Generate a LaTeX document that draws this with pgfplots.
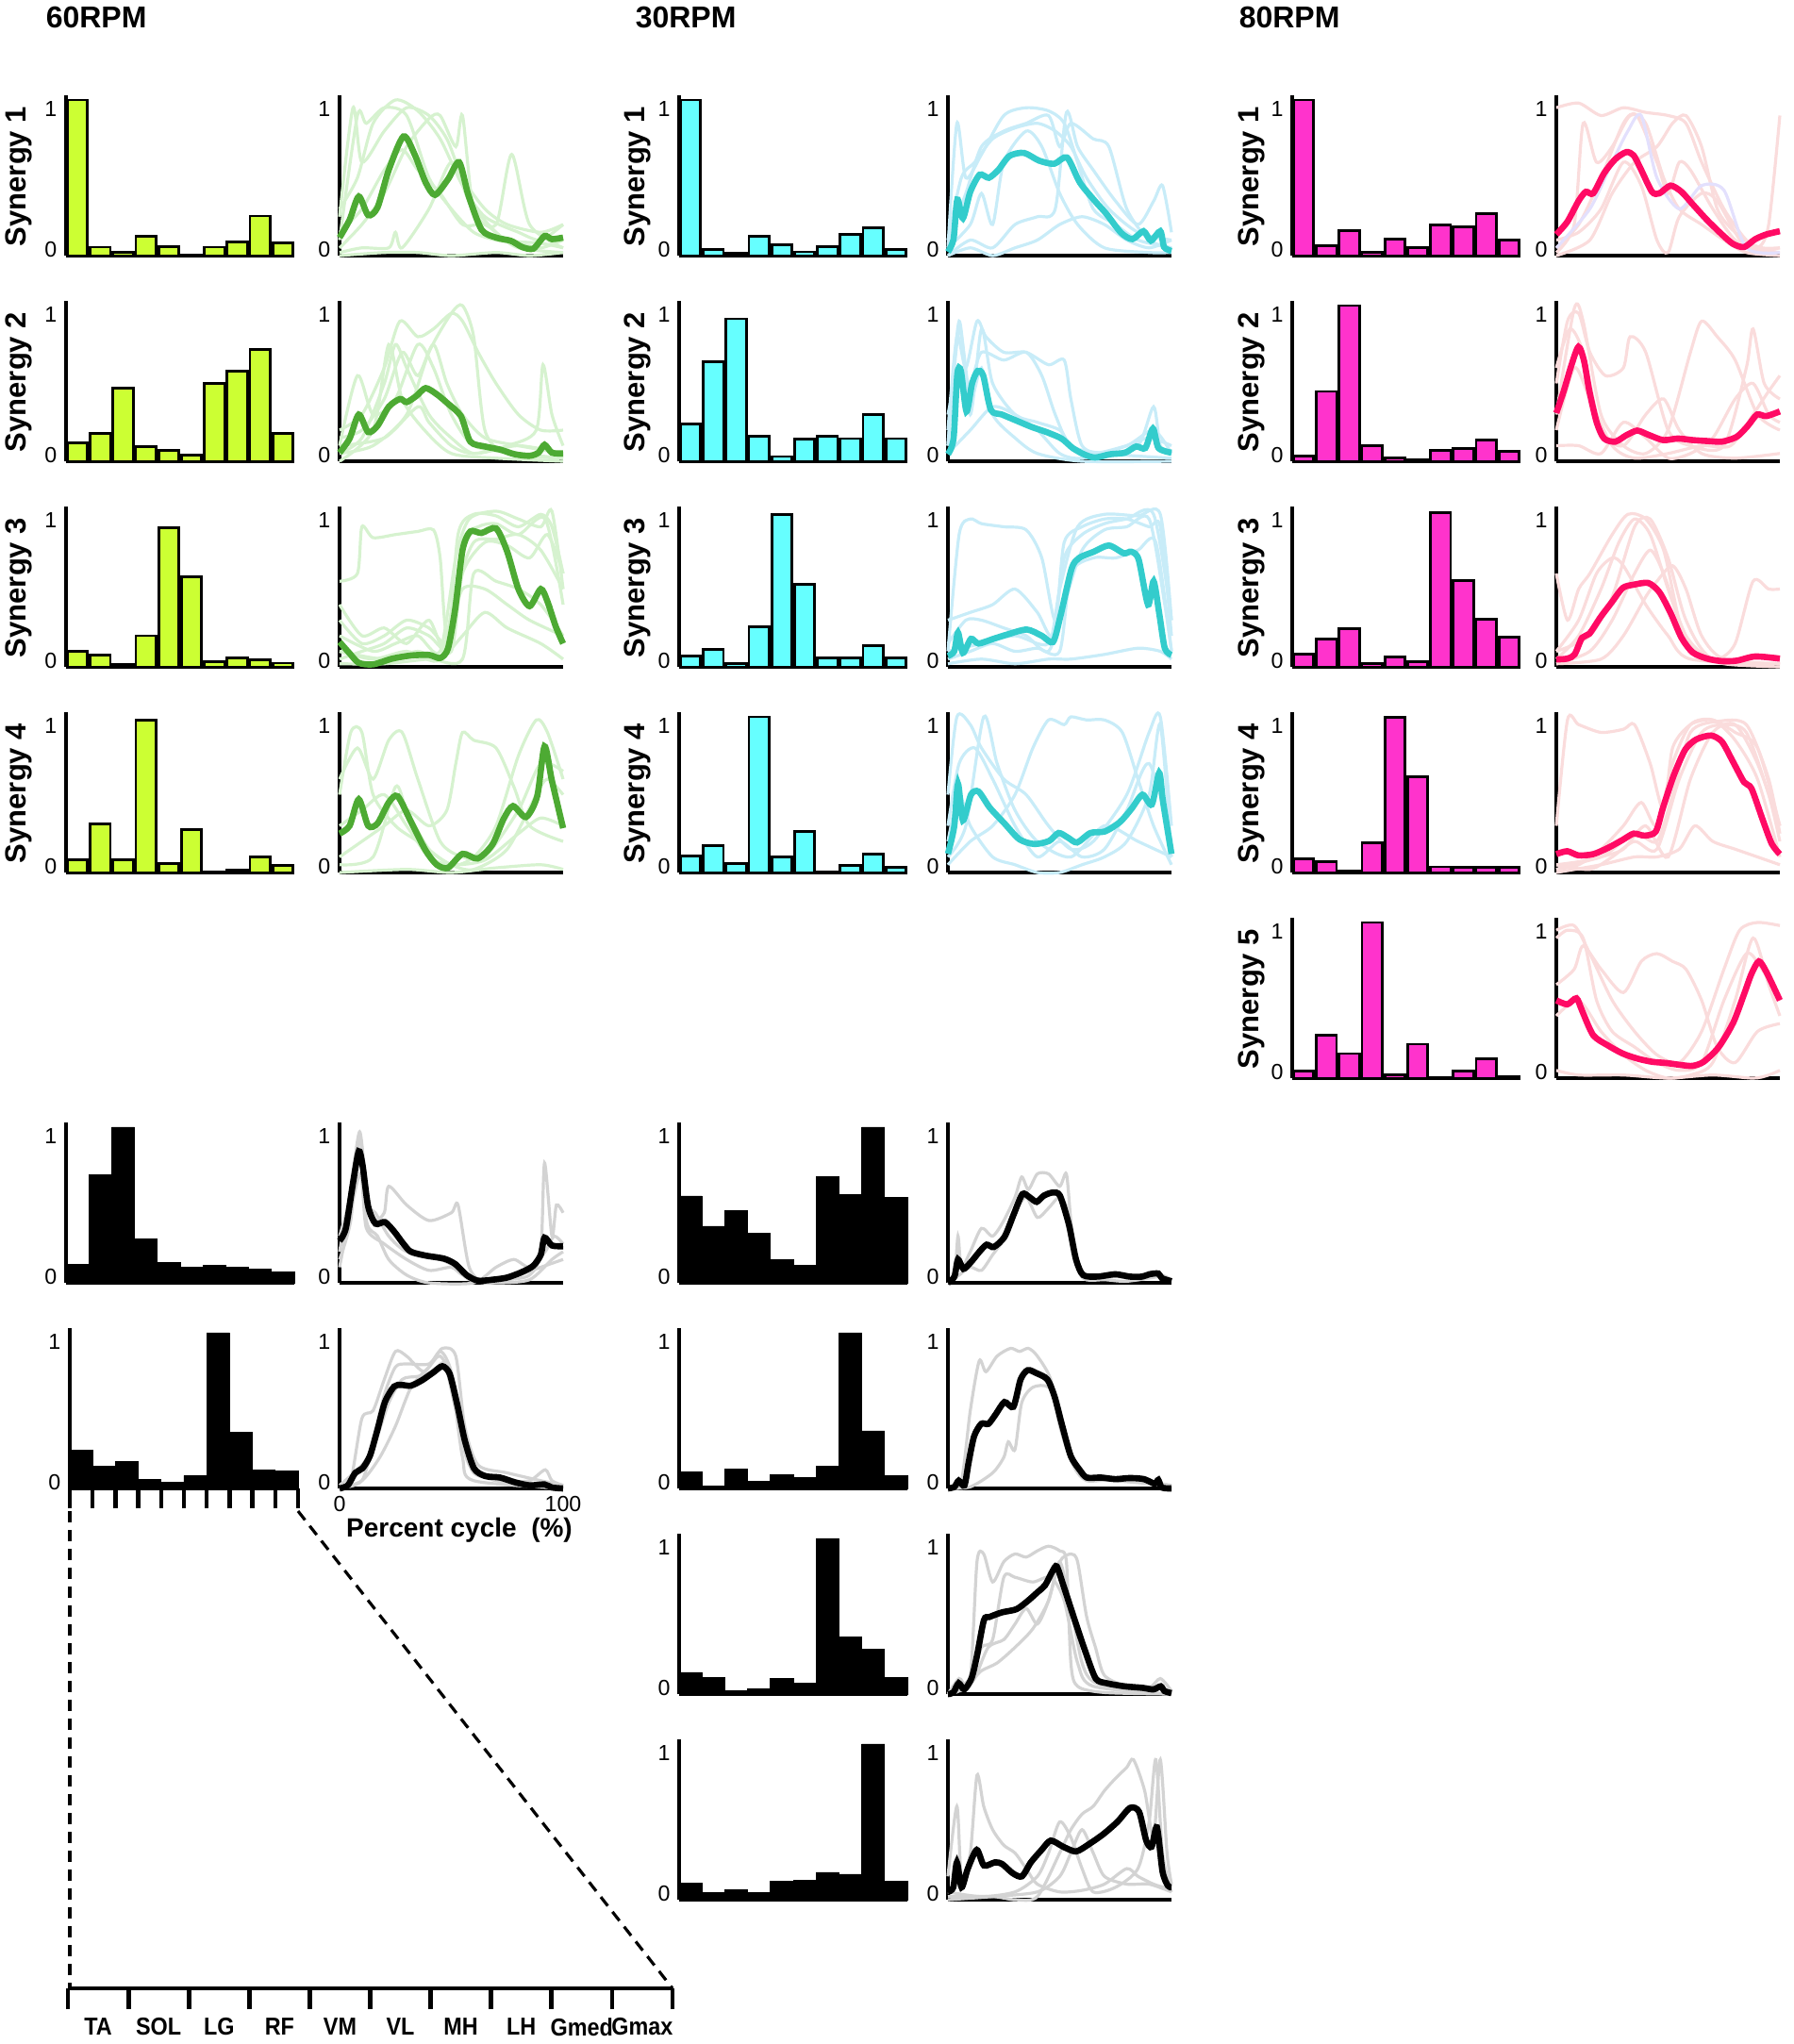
\documentclass[border=0pt]{standalone}
\usepackage{fontspec}
\setmainfont{Liberation Sans}
\newfontfamily\condfont[FakeStretch=0.9]{Liberation Sans}
\usepackage{pgfplots}
\pgfplotsset{compat=1.18}

\definecolor{bar60}{HTML}{CCFF33}
\definecolor{mean60}{HTML}{4DAA33}
\definecolor{faint60}{HTML}{D6F2CF}
\definecolor{bar30}{HTML}{66FFFF}
\definecolor{mean30}{HTML}{33CCCC}
\definecolor{faint30}{HTML}{C8ECF8}
\definecolor{bar80}{HTML}{FF33CC}
\definecolor{mean80}{HTML}{FF0A64}
\definecolor{faint80}{HTML}{FADCDC}
\definecolor{faintk}{HTML}{D3D3D3}

\pgfplotsset{
  base/.style={scale only axis, anchor=south west, height=42.5pt,
    axis x line=bottom, axis y line=left,
    axis line style={line width=1.1pt,-},
    ymin=0, ymax=1.03, enlargelimits=false,
    ytick={0.04,0.94}, yticklabels={0,1},
    xtick=\empty, major tick length=0pt,
    ytick style={draw=none},
    tick label style={font=\fontsize{5.8}{6}\selectfont},
    yticklabel style={anchor=east, inner sep=0pt, xshift=-2.2pt},
    /pgf/number format/assume math mode=true,
    clip=false},
  barax/.style={base, ybar, width=60.5pt, xmin=0.5, xmax=10.5},
  lineax/.style={base, width=59.25pt, xmin=0, xmax=100},
  cbar/.style={fill=#1, draw=black, line width=0.7pt, bar width=0.88},
  kbar/.style={fill=black, draw=black, line width=0.2pt, bar width=1},
  fl/.style={smooth, tension=0.45, no marks, color=#1, line width=0.8pt},
  ml/.style={smooth, tension=0.45, no marks, color=#1, line width=1.65pt},
}
\tikzset{
  syn/.style={rotate=90, inner sep=0pt, font=\bfseries\fontsize{7.75}{9}\selectfont},
  ttl/.style={anchor=west, inner sep=0pt, font=\bfseries\fontsize{8}{9}\selectfont},
  mus/.style={inner sep=0pt, yshift=-10.25pt, font=\condfont\bfseries\fontsize{6.5}{7}\selectfont},
}

\begin{document}
\begin{tikzpicture}
\useasboundingbox (0pt,0pt) rectangle (475.5pt,-541.75pt);

% ---------------- titles and labels ----------------
\node[ttl] at (12pt,-4.625pt) {60RPM};
\node[ttl] at (168.25pt,-4.625pt) {30RPM};
\node[ttl] at (328.25pt,-4.625pt) {80RPM};
\foreach \xx in {5pt,169pt,331.75pt}{
  \node[syn] at (\xx,-46.75pt) {Synergy 1};
  \node[syn] at (\xx,-101.25pt) {Synergy 2};
  \node[syn] at (\xx,-155.75pt) {Synergy 3};
  \node[syn] at (\xx,-210.25pt) {Synergy 4};
}
\node[syn] at (331.75pt,-264.75pt) {Synergy 5};

% ================= 60 RPM =================
\begin{axis}[barax, at={(17.5pt,-67.75pt)}]
\addplot[cbar=bar60] coordinates {(1,1.0)(2,0.055)(3,0.02)(4,0.126)(5,0.06)(6,0.0)(7,0.055)(8,0.09)(9,0.254)(10,0.08)};
\end{axis}
\begin{axis}[barax, at={(17.5pt,-122.25pt)}]
\addplot[cbar=bar60] coordinates {(1,0.12)(2,0.18)(3,0.47)(4,0.093)(5,0.07)(6,0.04)(7,0.50)(8,0.58)(9,0.72)(10,0.18)};
\end{axis}
\begin{axis}[barax, at={(17.5pt,-176.75pt)}]
\addplot[cbar=bar60] coordinates {(1,0.10)(2,0.077)(3,0.016)(4,0.20)(5,0.894)(6,0.58)(7,0.033)(8,0.057)(9,0.047)(10,0.024)};
\end{axis}
\begin{axis}[barax, at={(17.5pt,-231.25pt)}]
\addplot[cbar=bar60] coordinates {(1,0.08)(2,0.31)(3,0.08)(4,0.98)(5,0.057)(6,0.275)(7,0.004)(8,0.016)(9,0.10)(10,0.045)};
\end{axis}

\begin{axis}[lineax, at={(90pt,-67.75pt)}]
\addplot[fl=faint60] coordinates {(0,0.3)(8,0.5)(15,0.85)(25,1.0)(35,0.93)(45,0.75)(55,0.45)(65,0.25)(80,0.15)(90,0.1)(100,0.2)};
\addplot[fl=faint60] coordinates {(0,0.1)(8,0.9)(12,0.85)(20,0.95)(30,0.9)(40,0.5)(50,0.3)(60,0.15)(70,0.1)(80,0.08)(90,0.05)(100,0.1)};
\addplot[fl=faint60] coordinates {(0,0.05)(10,0.2)(20,0.4)(30,0.7)(40,0.88)(45,0.9)(52,0.7)(55,0.9)(60,0.3)(70,0.2)(77,0.65)(85,0.2)(100,0.05)};
\addplot[fl=faint60] coordinates {(0,0.02)(10,0.05)(22,0.05)(25,0.15)(28,0.05)(40,0.3)(50,0.6)(58,0.35)(70,0.15)(80,0.05)(100,0.02)};
\addplot[fl=faint60] coordinates {(0,0.15)(10,0.3)(20,0.55)(28,0.68)(35,0.55)(45,0.4)(55,0.2)(65,0.2)(75,0.1)(90,0.08)(100,0.05)};
\addplot[fl=faint60] coordinates {(0,0.25)(6,0.95)(10,0.6)(20,0.8)(30,0.95)(40,0.9)(48,0.75)(55,0.5)(65,0.3)(75,0.2)(90,0.15)(100,0.2)};
\addplot[fl=faint60] coordinates {(0,0)(20,0.02)(35,0.02)(50,0.0)(70,0.02)(85,0)(100,0.02)};
\addplot[ml=mean60] coordinates {(0,0.116)(4.5,0.23)(8.6,0.38)(12.8,0.26)(17,0.31)(22,0.55)(28.6,0.766)(33.6,0.65)(38.5,0.47)(42.7,0.39)(48.5,0.49)(53.5,0.60)(57.6,0.39)(63.5,0.167)(70,0.116)(76.7,0.095)(81.7,0.055)(86.7,0.045)(91.7,0.126)(95,0.106)(100,0.116)};
\end{axis}
\begin{axis}[lineax, at={(90pt,-122.25pt)}]
\addplot[fl=faint60] coordinates {(0,0.2)(10,0.3)(20,0.6)(27,0.9)(35,0.8)(42,0.85)(50,0.95)(55,0.9)(62,0.7)(70,0.5)(80,0.3)(90,0.2)(100,0.2)};
\addplot[fl=faint60] coordinates {(0,0.05)(10,0.15)(20,0.5)(25,0.75)(30,0.6)(40,0.3)(50,0.15)(60,0.05)(75,0.1)(88,0.2)(91,0.62)(95,0.3)(100,0.1)};
\addplot[fl=faint60] coordinates {(0,0.1)(8,0.55)(15,0.3)(25,0.4)(35,0.75)(42,0.6)(50,0.3)(60,0.1)(80,0.05)(100,0.02)};
\addplot[fl=faint60] coordinates {(0,0.05)(15,0.1)(30,0.3)(40,0.7)(50,0.95)(55,1.0)(60,0.8)(65,0.2)(75,0.05)(100,0.02)};
\addplot[fl=faint60] coordinates {(0,0.0)(15,0.2)(22,0.75)(28,0.4)(38,0.2)(50,0.05)(70,0.02)(100,0)};
\addplot[fl=faint60] coordinates {(0,0.1)(20,0.15)(35,0.35)(40,0.25)(50,0.1)(60,0.05)(80,0.1)(100,0.05)};
\addplot[fl=faint60] coordinates {(0,0.15)(10,0.2)(20,0.4)(28,0.7)(35,0.55)(42,0.75)(48,0.5)(55,0.3)(65,0.15)(80,0.1)(100,0.05)};
\addplot[ml=mean60] coordinates {(0,0.055)(4.5,0.146)(8.6,0.30)(12.8,0.187)(17,0.228)(22,0.35)(27,0.40)(30,0.38)(34.4,0.42)(38.5,0.47)(43.5,0.43)(48.5,0.37)(54.3,0.29)(58.5,0.126)(65,0.095)(71.8,0.075)(78.4,0.045)(85,0.035)(89,0.055)(91.7,0.106)(95,0.055)(100,0.05)};
\end{axis}
\begin{axis}[lineax, at={(90pt,-176.75pt)}]
\addplot[fl=faint60] coordinates {(0,0.55)(8,0.6)(10,0.9)(15,0.83)(25,0.85)(35,0.87)(42,0.88)(45,0.7)(48,0.2)(55,0.5)(65,0.5)(75,0.4)(85,0.3)(100,0.2)};
\addplot[fl=faint60] coordinates {(0,0.2)(15,0.1)(25,0.15)(35,0.2)(45,0.1)(52,0.7)(58,0.95)(70,1.0)(80,0.95)(90,0.9)(95,1.0)(100,0.5)};
\addplot[fl=faint60] coordinates {(0,0.05)(10,0.1)(20,0.15)(30,0.25)(40,0.2)(50,0.1)(55,0.6)(65,0.8)(75,0.78)(85,0.7)(93,0.85)(100,0.6)};
\addplot[fl=faint60] coordinates {(0,0.1)(20,0.05)(35,0.1)(45,0.05)(55,0.2)(65,0.35)(75,0.25)(90,0.15)(100,0.05)};
\addplot[fl=faint60] coordinates {(0,0.3)(10,0.15)(20,0.2)(30,0.3)(40,0.25)(50,0.15)(55,0.8)(62,0.9)(70,0.92)(80,0.85)(92,0.95)(100,0.4)};
\addplot[fl=faint60] coordinates {(0,0.02)(20,0.02)(40,0.05)(55,0.05)(60,0.6)(70,0.55)(80,0.5)(90,0.4)(100,0.2)};
\addplot[fl=faint60] coordinates {(0,0.4)(10,0.2)(20,0.25)(30,0.15)(40,0.3)(48,0.1)(53,0.85)(60,0.98)(70,0.97)(80,0.9)(90,0.98)(95,0.9)(100,0.6)};
\addplot[fl=faint60] coordinates {(0,0.1)(15,0.05)(30,0.1)(45,0.05)(52,0.5)(60,0.8)(70,0.82)(80,0.85)(90,0.75)(100,0.5)};
\addplot[ml=mean60] coordinates {(0,0.16)(4.5,0.087)(8.6,0.026)(15,0.016)(23.6,0.053)(32,0.073)(40,0.077)(45,0.057)(48.5,0.118)(51.8,0.38)(55,0.75)(58.5,0.87)(63.5,0.86)(70,0.89)(75,0.74)(80,0.50)(85,0.39)(90,0.50)(93,0.42)(96.7,0.26)(100,0.15)};
\end{axis}
\begin{axis}[lineax, at={(90pt,-231.25pt)}]
\addplot[fl=faint60] coordinates {(0,0.5)(5,0.9)(10,0.9)(15,0.5)(25,0.3)(35,0.2)(50,0.05)(60,0.1)(70,0.3)(80,0.75)(88,0.98)(93,0.9)(100,0.6)};
\addplot[fl=faint60] coordinates {(0,0.6)(8,0.8)(15,0.6)(22,0.85)(28,0.9)(35,0.6)(45,0.2)(55,0.1)(65,0.1)(80,0.4)(90,0.7)(100,0.65)};
\addplot[fl=faint60] coordinates {(0,0.1)(10,0.2)(20,0.3)(30,0.4)(40,0.3)(48,0.4)(52,0.7)(55,0.9)(60,0.85)(70,0.8)(78,0.55)(85,0.3)(100,0.2)};
\addplot[fl=faint60] coordinates {(0,0.05)(15,0.1)(25,0.55)(30,0.4)(40,0.15)(50,0.05)(60,0.02)(75,0.15)(88,0.5)(93,0.6)(100,0.5)};
\addplot[fl=faint60] coordinates {(0,0.3)(10,0.4)(20,0.5)(30,0.3)(40,0.1)(50,0.05)(65,0.08)(80,0.25)(90,0.35)(100,0.3)};
\addplot[fl=faint60] coordinates {(0,0.0)(30,0.02)(50,0.0)(70,0.03)(90,0.05)(100,0.02)};
\addplot[ml=mean60] coordinates {(0,0.25)(4.5,0.30)(8.6,0.47)(12.8,0.30)(17,0.315)(22,0.45)(26,0.49)(32,0.325)(38.5,0.142)(43.5,0.05)(48.5,0.03)(55,0.12)(61.8,0.09)(68.4,0.18)(73.4,0.345)(77.6,0.427)(83.4,0.356)(88.4,0.49)(91.7,0.81)(95,0.59)(100,0.285)};
\end{axis}

% ================= 30 RPM =================
\begin{axis}[barax, at={(180pt,-67.75pt)}]
\addplot[cbar=bar30] coordinates {(1,1.0)(2,0.04)(3,0.014)(4,0.126)(5,0.07)(6,0.024)(7,0.06)(8,0.136)(9,0.177)(10,0.04)};
\end{axis}
\begin{axis}[barax, at={(180pt,-122.25pt)}]
\addplot[cbar=bar30] coordinates {(1,0.24)(2,0.64)(3,0.915)(4,0.16)(5,0.03)(6,0.142)(7,0.16)(8,0.146)(9,0.30)(10,0.146)};
\end{axis}
\begin{axis}[barax, at={(180pt,-176.75pt)}]
\addplot[cbar=bar30] coordinates {(1,0.07)(2,0.114)(3,0.02)(4,0.256)(5,0.98)(6,0.53)(7,0.057)(8,0.06)(9,0.138)(10,0.06)};
\end{axis}
\begin{axis}[barax, at={(180pt,-231.25pt)}]
\addplot[cbar=bar30] coordinates {(1,0.108)(2,0.173)(3,0.06)(4,1.0)(5,0.098)(6,0.264)(7,0)(8,0.047)(9,0.116)(10,0.035)};
\end{axis}

\begin{axis}[lineax, at={(251.25pt,-67.75pt)}]
\addplot[fl=faint30] coordinates {(0,0.05)(4,0.85)(8,0.5)(15,0.65)(25,0.9)(35,0.95)(45,0.93)(52,0.85)(58,0.6)(65,0.3)(75,0.2)(85,0.1)(100,0.05)};
\addplot[fl=faint30] coordinates {(0,0.1)(8,0.4)(15,0.7)(25,0.8)(35,0.85)(45,0.9)(50,0.7)(55,0.85)(65,0.75)(72,0.7)(80,0.3)(90,0.1)(100,0.05)};
\addplot[fl=faint30] coordinates {(0,0.0)(10,0.1)(20,0.05)(30,0.2)(40,0.25)(48,0.3)(53,0.92)(58,0.7)(65,0.55)(75,0.35)(85,0.2)(92,0.35)(96,0.45)(100,0.15)};
\addplot[fl=faint30] coordinates {(0,0.05)(10,0.2)(15,0.4)(20,0.2)(25,0.6)(35,0.8)(42,0.7)(50,0.4)(58,0.2)(70,0.05)(90,0.02)(100,0.02)};
\addplot[fl=faint30] coordinates {(0,0.0)(10,0.05)(20,0.0)(30,0.05)(40,0.1)(50,0.2)(60,0.25)(70,0.2)(80,0.1)(90,0.05)(100,0.1)};
\addplot[fl=faint30] coordinates {(0,0.1)(6,0.5)(12,0.6)(20,0.75)(30,0.82)(40,0.85)(48,0.8)(55,0.7)(62,0.5)(72,0.3)(85,0.15)(100,0.1)};
\addplot[ml=mean30] coordinates {(0,0.024)(2.5,0.106)(4.2,0.36)(6.7,0.24)(10,0.41)(14.2,0.52)(18.3,0.50)(22.5,0.55)(27.5,0.64)(34,0.66)(40.8,0.61)(47.5,0.59)(53.3,0.63)(59,0.47)(65.8,0.35)(70.8,0.27)(77.5,0.146)(82.5,0.106)(87.5,0.157)(90.8,0.096)(95,0.157)(96.7,0.055)(100,0.03)};
\end{axis}
\begin{axis}[lineax, at={(251.25pt,-122.25pt)}]
\addplot[fl=faint30] coordinates {(0,0.2)(4,0.8)(8,0.6)(13,0.9)(17,0.8)(25,0.7)(35,0.7)(45,0.62)(52,0.65)(55,0.4)(60,0.1)(70,0.05)(85,0.1)(92,0.35)(95,0.1)(100,0.05)};
\addplot[fl=faint30] coordinates {(0,0.1)(5,0.9)(10,0.3)(15,0.85)(20,0.5)(30,0.3)(40,0.25)(50,0.2)(55,0.1)(65,0.05)(80,0.1)(90,0.15)(100,0.1)};
\addplot[fl=faint30] coordinates {(0,0.3)(5,0.6)(10,0.5)(15,0.7)(25,0.65)(35,0.7)(42,0.55)(48,0.3)(55,0.1)(70,0.05)(100,0.02)};
\addplot[fl=faint30] coordinates {(0,0.05)(10,0.2)(20,0.35)(30,0.3)(40,0.2)(50,0.05)(60,0.02)(80,0.1)(92,0.2)(100,0.05)};
\addplot[fl=faint30] coordinates {(0,0.1)(5,0.85)(10,0.4)(15,0.6)(20,0.3)(30,0.15)(40,0.05)(60,0.0)(100,0.0)};
\addplot[ml=mean30] coordinates {(0,0.045)(2.5,0.146)(4.2,0.56)(5.8,0.58)(8.3,0.32)(10.8,0.50)(13.3,0.58)(15.8,0.55)(19.2,0.33)(24.2,0.30)(30.8,0.26)(37.5,0.22)(44.2,0.187)(50.8,0.146)(55.8,0.085)(60.8,0.045)(65.8,0.024)(72.5,0.045)(79.2,0.055)(84.2,0.095)(88.3,0.085)(91.7,0.21)(94.2,0.085)(100,0.055)};
\end{axis}
\begin{axis}[lineax, at={(251.25pt,-176.75pt)}]
\addplot[fl=faint30] coordinates {(0,0.1)(5,0.85)(10,0.95)(15,0.92)(25,0.9)(35,0.88)(42,0.7)(48,0.3)(52,0.8)(60,0.9)(70,0.95)(80,0.95)(90,0.9)(95,0.9)(100,0.2)};
\addplot[fl=faint30] coordinates {(0,0.3)(10,0.35)(20,0.4)(30,0.5)(40,0.35)(47,0.2)(52,0.7)(60,0.85)(70,0.92)(80,0.95)(92,0.98)(100,0.3)};
\addplot[fl=faint30] coordinates {(0,0.05)(10,0.1)(20,0.15)(30,0.1)(40,0.12)(50,0.1)(55,0.6)(65,0.7)(75,0.7)(85,0.75)(93,0.8)(100,0.1)};
\addplot[fl=faint30] coordinates {(0,0.02)(15,0.05)(30,0.02)(45,0.05)(55,0.05)(70,0.08)(85,0.12)(95,0.1)(100,0.05)};
\addplot[fl=faint30] coordinates {(0,0.15)(8,0.3)(15,0.3)(25,0.25)(35,0.2)(45,0.1)(52,0.4)(60,0.75)(70,0.88)(80,0.9)(90,0.95)(97,0.4)(100,0.1)};
\addplot[fl=faint30] coordinates {(0,0.1)(15,0.15)(30,0.2)(45,0.15)(50,0.5)(58,0.9)(70,0.98)(85,0.97)(95,0.98)(100,0.3)};
\addplot[ml=mean30] coordinates {(0,0.07)(2.8,0.10)(4.5,0.22)(6.7,0.09)(10.3,0.18)(13.7,0.15)(20.3,0.18)(27,0.21)(35.3,0.24)(42,0.20)(47,0.16)(50.3,0.325)(55.3,0.63)(58.7,0.70)(65.3,0.74)(72,0.78)(78.7,0.73)(82,0.74)(85.3,0.69)(89.5,0.40)(92,0.55)(94.5,0.345)(97,0.12)(100,0.077)};
\end{axis}
\begin{axis}[lineax, at={(251.25pt,-231.25pt)}]
\addplot[fl=faint30] coordinates {(0,0.5)(4,1.0)(10,0.95)(15,0.8)(25,0.6)(35,0.5)(45,0.3)(55,0.15)(65,0.2)(80,0.5)(90,0.9)(95,1.0)(100,0.3)};
\addplot[fl=faint30] coordinates {(0,0.2)(5,0.5)(10,0.3)(20,0.1)(30,0.05)(40,0.0)(50,0.0)(60,0.05)(70,0.1)(80,0.2)(90,0.5)(95,0.95)(100,0.1)};
\addplot[fl=faint30] coordinates {(0,0.05)(10,0.2)(20,0.3)(30,0.5)(38,0.8)(45,0.98)(52,0.95)(55,1.0)(62,0.98)(70,0.98)(78,0.9)(85,0.6)(92,0.3)(100,0.05)};
\addplot[fl=faint30] coordinates {(0,0.3)(5,0.7)(12,0.8)(20,0.6)(30,0.3)(40,0.1)(50,0.2)(60,0.1)(70,0.15)(80,0.4)(90,0.7)(100,0.2)};
\addplot[fl=faint30] coordinates {(0,0.1)(8,0.3)(16,1.0)(22,0.7)(30,0.4)(40,0.2)(55,0.1)(70,0.3)(85,0.2)(100,0.1)};
\addplot[ml=mean30] coordinates {(0,0.12)(2.8,0.295)(4.5,0.57)(6.7,0.335)(10.3,0.50)(13.7,0.52)(18.7,0.417)(25.3,0.315)(32,0.213)(38.7,0.183)(45.3,0.203)(49.5,0.254)(53.7,0.224)(57.8,0.193)(63.7,0.254)(70.3,0.264)(77,0.325)(82,0.407)(87,0.50)(91.2,0.437)(94.5,0.64)(96.2,0.457)(100,0.12)};
\end{axis}

% ================= 80 RPM =================
\begin{axis}[barax, at={(342.5pt,-67.75pt)}]
\addplot[cbar=bar80] coordinates {(1,1.0)(2,0.065)(3,0.162)(4,0.02)(5,0.105)(6,0.053)(7,0.195)(8,0.187)(9,0.27)(10,0.10)};
\end{axis}
\begin{axis}[barax, at={(342.5pt,-122.25pt)}]
\addplot[cbar=bar80] coordinates {(1,0.035)(2,0.448)(3,1.0)(4,0.10)(5,0.02)(6,0.008)(7,0.07)(8,0.08)(9,0.138)(10,0.062)};
\end{axis}
\begin{axis}[barax, at={(342.5pt,-176.75pt)}]
\addplot[cbar=bar80] coordinates {(1,0.08)(2,0.178)(3,0.244)(4,0.02)(5,0.066)(6,0.032)(7,0.99)(8,0.554)(9,0.305)(10,0.19)};
\end{axis}
\begin{axis}[barax, at={(342.5pt,-231.25pt)}]
\addplot[cbar=bar80] coordinates {(1,0.087)(2,0.071)(3,0.01)(4,0.19)(5,0.995)(6,0.616)(7,0.037)(8,0.032)(9,0.034)(10,0.034)};
\end{axis}
\begin{axis}[barax, at={(342.5pt,-285.75pt)}]
\addplot[cbar=bar80] coordinates {(1,0.047)(2,0.276)(3,0.158)(4,1.0)(5,0.02)(6,0.218)(7,0.003)(8,0.045)(9,0.126)(10,0.008)};
\end{axis}

\begin{axis}[lineax, at={(412.5pt,-67.75pt)}]
\addplot[fl=faint80] coordinates {(0,0.95)(10,0.98)(20,0.9)(30,0.95)(40,0.92)(50,0.9)(58,0.85)(65,0.6)(75,0.3)(85,0.1)(92,0.05)(100,0.05)};
\addplot[fl=faint80] coordinates {(0,0.02)(8,0.2)(12,0.85)(18,0.6)(25,0.7)(33,0.9)(40,0.85)(48,0.5)(55,0.3)(65,0.2)(75,0.1)(85,0.02)(100,0.0)};
\addplot[fl=faint80] coordinates {(0,0.05)(10,0.2)(20,0.5)(30,0.85)(36,0.9)(45,0.6)(50,0.4)(55,0.6)(60,0.55)(70,0.3)(80,0.1)(90,0.05)(95,0.2)(100,0.9)};
\addplot[fl=faint80] coordinates {(0,0.1)(10,0.15)(20,0.3)(30,0.6)(38,0.45)(45,0.1)(50,0.02)(55,0.25)(65,0.4)(72,0.35)(85,0.05)(100,0.05)};
\addplot[fl=faint80] coordinates {(0,0.0)(15,0.1)(25,0.4)(35,0.6)(45,0.7)(52,0.85)(58,0.9)(65,0.7)(72,0.3)(80,0.15)(90,0.05)(100,0.02)};
\addplot[fl={red!8!blue!12!white}] coordinates {(0,0.05)(15,0.3)(25,0.6)(32,0.8)(38,0.9)(45,0.5)(55,0.3)(65,0.45)(75,0.42)(85,0.05)(100,0.02)};
\addplot[ml=mean80] coordinates {(0,0.136)(4.9,0.217)(9.9,0.35)(13.2,0.41)(16.5,0.40)(21.4,0.53)(26.4,0.62)(31.3,0.665)(34.6,0.644)(37.9,0.553)(42.8,0.41)(46.1,0.40)(51.1,0.45)(56,0.41)(61,0.33)(67.5,0.228)(74.1,0.136)(79.1,0.075)(84,0.055)(89,0.106)(93.9,0.136)(100,0.157)};
\end{axis}
\begin{axis}[lineax, at={(412.5pt,-122.25pt)}]
\addplot[fl=faint80] coordinates {(0,0.5)(5,0.9)(10,0.95)(15,0.7)(22,0.55)(30,0.6)(33,0.8)(40,0.7)(50,0.2)(60,0.1)(75,0.1)(85,0.6)(88,0.85)(93,0.5)(100,0.4)};
\addplot[fl=faint80] coordinates {(0,0.3)(8,0.98)(12,0.9)(20,0.3)(30,0.1)(40,0.05)(50,0.2)(60,0.7)(65,0.9)(72,0.8)(80,0.65)(90,0.3)(100,0.2)};
\addplot[fl=faint80] coordinates {(0,0.2)(8,0.6)(15,0.4)(25,0.1)(35,0.02)(50,0.05)(65,0.1)(78,0.1)(88,0.3)(95,0.45)(100,0.55)};
\addplot[fl=faint80] coordinates {(0,0.6)(6,0.85)(12,0.7)(20,0.2)(30,0.1)(40,0.3)(48,0.4)(55,0.2)(65,0.05)(80,0.02)(100,0.05)};
\addplot[fl=faint80] coordinates {(0,0.1)(10,0.1)(20,0.05)(30,0.25)(40,0.15)(50,0.02)(60,0.05)(70,0.15)(80,0.4)(88,0.5)(95,0.3)(100,0.25)};
\addplot[ml=mean80] coordinates {(0,0.31)(3.3,0.45)(6.6,0.61)(9.9,0.735)(12.4,0.645)(14.8,0.45)(18.1,0.248)(21.4,0.146)(26.4,0.126)(31.3,0.167)(36.2,0.197)(41.2,0.17)(47.8,0.136)(54.4,0.146)(61,0.136)(67.5,0.13)(74.1,0.126)(80.7,0.157)(85.7,0.228)(89.8,0.30)(93.9,0.29)(100,0.32)};
\end{axis}
\begin{axis}[lineax, at={(412.5pt,-176.75pt)}]
\addplot[fl=faint80] coordinates {(0,0.6)(5,0.3)(10,0.5)(15,0.6)(25,0.85)(32,0.98)(40,0.95)(48,0.75)(55,0.3)(62,0.1)(72,0.05)(80,0.15)(88,0.55)(95,0.5)(100,0.5)};
\addplot[fl=faint80] coordinates {(0,0.05)(10,0.2)(20,0.5)(28,0.8)(35,0.95)(42,0.85)(50,0.5)(58,0.2)(70,0.05)(100,0.02)};
\addplot[fl=faint80] coordinates {(0,0.02)(15,0.1)(25,0.3)(35,0.6)(42,0.75)(48,0.6)(55,0.3)(62,0.1)(75,0.02)(100,0.0)};
\addplot[fl=faint80] coordinates {(0,0.1)(10,0.3)(18,0.6)(25,0.7)(30,0.65)(40,0.4)(50,0.2)(60,0.05)(100,0.02)};
\addplot[fl=faint80] coordinates {(0,0.02)(20,0.05)(30,0.2)(40,0.45)(45,0.55)(52,0.65)(58,0.5)(65,0.2)(75,0.05)(100,0.02)};
\addplot[fl=faint80] coordinates {(0,0.1)(15,0.2)(25,0.45)(35,0.9)(42,0.95)(50,0.7)(58,0.3)(70,0.05)(100,0.02)};
\addplot[ml=mean80] coordinates {(0,0.048)(4.9,0.053)(8.2,0.08)(11.5,0.187)(14.8,0.213)(19.8,0.32)(24.7,0.413)(29.7,0.507)(34.6,0.528)(41.2,0.539)(46.1,0.48)(51.1,0.347)(56,0.187)(61,0.093)(67.5,0.053)(74.1,0.037)(80.7,0.04)(89,0.067)(100,0.053)};
\end{axis}
\begin{axis}[lineax, at={(412.5pt,-231.25pt)}]
\addplot[fl=faint80] coordinates {(0,0.3)(5,0.98)(10,0.95)(20,0.9)(30,0.92)(35,0.95)(42,0.7)(48,0.4)(52,0.8)(60,0.95)(70,0.98)(80,0.9)(90,0.8)(100,0.3)};
\addplot[fl=faint80] coordinates {(0,0.02)(10,0.05)(20,0.15)(30,0.3)(38,0.45)(45,0.3)(52,0.7)(60,0.95)(70,0.98)(80,0.85)(90,0.6)(100,0.1)};
\addplot[fl=faint80] coordinates {(0,0.05)(15,0.02)(25,0.1)(35,0.2)(45,0.15)(55,0.6)(65,0.9)(75,0.95)(85,0.9)(95,0.5)(100,0.2)};
\addplot[fl=faint80] coordinates {(0,0.0)(20,0.05)(35,0.1)(45,0.1)(55,0.15)(62,0.3)(70,0.2)(80,0.15)(90,0.1)(100,0.05)};
\addplot[fl=faint80] coordinates {(0,0.02)(20,0.1)(30,0.15)(40,0.3)(50,0.1)(60,0.6)(70,0.9)(80,0.95)(90,0.7)(100,0.3)};
\addplot[fl=faint80] coordinates {(0,0.05)(20,0.1)(35,0.25)(45,0.2)(52,0.5)(60,0.9)(72,0.97)(85,0.95)(95,0.6)(100,0.25)};
\addplot[ml=mean80] coordinates {(0,0.118)(4.9,0.137)(9.9,0.11)(16.5,0.118)(23.1,0.158)(29.7,0.21)(34.6,0.25)(39.5,0.237)(44.5,0.263)(47.8,0.42)(52.7,0.63)(57.7,0.79)(62.6,0.855)(69.2,0.88)(74.1,0.84)(79.1,0.71)(84,0.58)(87.3,0.54)(92.3,0.34)(96.4,0.184)(100,0.118)};
\end{axis}
\begin{axis}[lineax, at={(412.5pt,-285.75pt)}]
\addplot[fl=faint80] coordinates {(0,0.95)(8,0.98)(15,0.8)(25,0.5)(35,0.3)(45,0.15)(55,0.1)(65,0.3)(75,0.7)(82,0.95)(90,1.0)(100,0.98)};
\addplot[fl=faint80] coordinates {(0,0.9)(5,0.95)(12,0.9)(18,0.5)(25,0.3)(35,0.2)(45,0.1)(55,0.05)(65,0.1)(75,0.5)(85,0.8)(92,0.7)(100,0.5)};
\addplot[fl=faint80] coordinates {(0,0.6)(8,0.7)(12,0.85)(20,0.7)(30,0.55)(38,0.75)(45,0.8)(52,0.75)(58,0.7)(65,0.5)(72,0.2)(80,0.1)(90,0.3)(100,0.35)};
\addplot[fl=faint80] coordinates {(0,0.4)(10,0.5)(20,0.3)(30,0.15)(40,0.05)(50,0.0)(60,0.02)(70,0.1)(80,0.5)(88,0.9)(95,0.6)(100,0.4)};
\addplot[fl=faint80] coordinates {(0,0.05)(10,0.02)(30,0.02)(50,0.0)(70,0.02)(88,0.0)(95,0.02)(100,0.05)};
\addplot[ml=mean80] coordinates {(0,0.50)(4.9,0.474)(9,0.513)(11.5,0.434)(16.5,0.276)(23.1,0.21)(29.7,0.158)(36.2,0.126)(42.8,0.105)(49.4,0.097)(56,0.084)(61,0.079)(65.9,0.105)(72.5,0.197)(79.1,0.355)(84,0.54)(87.3,0.67)(90.6,0.75)(93.9,0.684)(100,0.50)};
\end{axis}

% ================= black, left column =================
\begin{axis}[barax, at={(17.5pt,-340pt)}]
\addplot[kbar] coordinates {(1,0.116)(2,0.696)(3,1.0)(4,0.282)(5,0.132)(6,0.102)(7,0.112)(8,0.1)(9,0.086)(10,0.07)};
\end{axis}
\begin{axis}[barax, at={(18.5pt,-394.5pt)}, xtick={0.5,1.5,...,10.5}, xticklabels={}, xtick align=outside, ytick align=inside, major tick length=5.25pt, xtick style={line width=1.1pt, black}]
\addplot[kbar] coordinates {(1,0.246)(2,0.142)(3,0.172)(4,0.056)(5,0.04)(6,0.082)(7,1.0)(8,0.36)(9,0.12)(10,0.112)};
\end{axis}
\begin{axis}[lineax, at={(90pt,-340pt)}]
\addplot[fl=faintk] coordinates {(0,0.2)(5,0.6)(9,0.97)(12,0.6)(15,0.4)(20,0.45)(22,0.62)(30,0.5)(40,0.4)(50,0.45)(53,0.5)(58,0.1)(65,0.0)(75,0.02)(85,0.05)(90,0.2)(91.7,0.77)(95,0.3)(97,0.5)(100,0.45)};
\addplot[fl=faintk] coordinates {(0,0.15)(5,0.4)(9,0.95)(12,0.4)(17,0.3)(22,0.15)(30,0.05)(40,0.0)(60,0.0)(70,0.1)(78,0.15)(85,0.1)(92,0.2)(96,0.3)(100,0.25)};
\addplot[fl=faintk] coordinates {(0,0.3)(4,0.5)(9,0.8)(12,0.5)(16,0.45)(22,0.3)(30,0.2)(45,0.15)(52,0.1)(58,0.02)(70,0.0)(85,0.02)(95,0.15)(100,0.2)};
\addplot[fl=faintk] coordinates {(0,0.1)(9,0.7)(12,0.35)(20,0.25)(30,0.15)(40,0.08)(50,0.1)(55,0.05)(65,0.0)(80,0.05)(90,0.1)(100,0.15)};
\addplot[ml=black] coordinates {(0,0.27)(2.8,0.35)(6.1,0.65)(8.6,0.845)(10.3,0.755)(12.8,0.49)(16.1,0.38)(20.3,0.39)(24.4,0.33)(28.6,0.25)(31.9,0.20)(38.5,0.175)(46.8,0.155)(51.8,0.12)(56.8,0.05)(61.8,0.014)(68.4,0.02)(75,0.034)(81.7,0.07)(86.7,0.11)(90,0.18)(91.7,0.29)(95,0.24)(100,0.235)};
\end{axis}
\begin{axis}[lineax, at={(90pt,-394.5pt)}, xtick={0,100}, xticklabels={0,100}, xticklabel style={anchor=north, inner sep=0pt, yshift=-1.8pt}]
\addplot[fl=faintk] coordinates {(0,0.0)(5,0.05)(10,0.45)(15,0.5)(20,0.7)(25,0.88)(30,0.85)(38,0.75)(45,0.88)(50,0.75)(55,0.35)(60,0.1)(75,0.05)(85,0.05)(92,0.12)(95,0.05)(100,0.02)};
\addplot[fl=faintk] coordinates {(0,0.0)(10,0.05)(15,0.3)(20,0.6)(25,0.78)(30,0.8)(40,0.8)(46,0.9)(52,0.85)(56,0.4)(62,0.15)(75,0.1)(90,0.05)(100,0.02)};
\addplot[fl=faintk] coordinates {(0,0.0)(10,0.05)(18,0.2)(25,0.4)(32,0.65)(40,0.78)(45,0.85)(50,0.7)(55,0.2)(60,0.05)(100,0.0)};
\addplot[fl=faintk] coordinates {(0,0.02)(10,0.15)(16,0.3)(22,0.55)(28,0.7)(35,0.72)(42,0.75)(47,0.8)(52,0.5)(58,0.15)(70,0.05)(100,0.0)};
\addplot[ml=black] coordinates {(0,0.0)(3.7,0.02)(7,0.10)(10.3,0.13)(13.6,0.21)(16.9,0.375)(20.3,0.555)(24.4,0.655)(27.7,0.665)(31.9,0.66)(36.9,0.695)(41.9,0.745)(46,0.785)(49.3,0.735)(52.7,0.535)(56,0.31)(60.1,0.13)(65.1,0.08)(71.8,0.07)(78.4,0.04)(85,0.02)(91.7,0.026)(95,0.006)(100,0.0)};
\end{axis}
\node[inner sep=0pt, font=\bfseries\fontsize{7}{8}\selectfont] at (121.75pt,-405.5pt) {Percent cycle~~(\%)};

% ================= black, middle column =================
\begin{axis}[barax, at={(180pt,-340pt)}]
\addplot[kbar] coordinates {(1,0.558)(2,0.364)(3,0.464)(4,0.318)(5,0.148)(6,0.114)(7,0.68)(8,0.568)(9,1.0)(10,0.548)};
\end{axis}
\begin{axis}[barax, at={(180pt,-394.5pt)}]
\addplot[kbar] coordinates {(1,0.104)(2,0.016)(3,0.126)(4,0.044)(5,0.09)(6,0.07)(7,0.144)(8,1.0)(9,0.37)(10,0.08)};
\end{axis}
\begin{axis}[barax, at={(180pt,-449pt)}]
\addplot[kbar] coordinates {(1,0.14)(2,0.108)(3,0.024)(4,0.034)(5,0.098)(6,0.068)(7,1.0)(8,0.365)(9,0.289)(10,0.104)};
\end{axis}
\begin{axis}[barax, at={(180pt,-503.5pt)}]
\addplot[kbar] coordinates {(1,0.104)(2,0.046)(3,0.066)(4,0.046)(5,0.12)(6,0.124)(7,0.176)(8,0.164)(9,1.0)(10,0.12)};
\end{axis}

\begin{axis}[lineax, at={(251.25pt,-340pt)}]
\addplot[fl=faintk] coordinates {(0,0.0)(3,0.05)(4.5,0.3)(6,0.1)(10,0.2)(15,0.35)(20,0.3)(25,0.4)(30,0.55)(33,0.68)(36,0.6)(40,0.7)(45,0.7)(50,0.62)(53,0.7)(55,0.4)(58,0.1)(62,0.02)(75,0.04)(85,0.02)(95,0.05)(100,0.02)};
\addplot[fl=faintk] coordinates {(0,0.0)(5,0.05)(10,0.1)(15,0.08)(20,0.18)(25,0.28)(30,0.45)(35,0.55)(40,0.42)(45,0.48)(50,0.55)(54,0.45)(58,0.1)(62,0.02)(70,0.02)(80,0.01)(95,0.04)(100,0.02)};
\addplot[ml=black] coordinates {(0,0.0)(2.9,0.04)(4.5,0.15)(6.9,0.09)(10.1,0.13)(14.1,0.20)(17.3,0.245)(20.5,0.23)(25.3,0.295)(29.3,0.435)(33.3,0.57)(36.5,0.55)(39.7,0.52)(42.9,0.56)(46.9,0.58)(50.1,0.56)(54.1,0.375)(57.3,0.15)(60.5,0.05)(66.9,0.04)(74.9,0.055)(81.3,0.04)(86.9,0.04)(90.1,0.055)(94.1,0.06)(95.7,0.03)(100,0.01)};
\end{axis}
\begin{axis}[lineax, at={(251.25pt,-394.5pt)}]
\addplot[fl=faintk] coordinates {(0,0.0)(6,0.05)(10,0.5)(14,0.82)(17,0.75)(22,0.85)(28,0.9)(32,0.88)(36,0.9)(40,0.85)(46,0.7)(50,0.4)(56,0.15)(62,0.05)(75,0.06)(90,0.04)(100,0.02)};
\addplot[fl=faintk] coordinates {(0,0.0)(10,0.01)(20,0.1)(25,0.2)(27,0.3)(30,0.25)(33,0.55)(38,0.65)(45,0.65)(50,0.5)(55,0.2)(60,0.08)(75,0.05)(100,0.02)};
\addplot[ml=black] coordinates {(0,0)(2.9,0.01)(4.8,0.05)(7.4,0.02)(9.3,0.17)(11.7,0.335)(14.9,0.415)(18.1,0.415)(21.3,0.475)(25.3,0.555)(29.3,0.525)(32.5,0.70)(35.7,0.76)(39.7,0.74)(44.5,0.70)(47.7,0.59)(50.9,0.415)(54.9,0.21)(58.9,0.12)(62.1,0.07)(68.5,0.07)(74.9,0.06)(81.3,0.067)(87.7,0.06)(92.5,0.03)(94.1,0.055)(95.7,0.006)(100,0)};
\end{axis}
\begin{axis}[lineax, at={(251.25pt,-449pt)}]
\addplot[fl=faintk] coordinates {(0,0.0)(5,0.02)(10,0.1)(13,0.85)(16,0.9)(20,0.72)(25,0.85)(30,0.9)(35,0.88)(40,0.92)(45,0.95)(50,0.92)(53,0.85)(55,0.2)(58,0.05)(70,0.01)(100,0.0)};
\addplot[fl=faintk] coordinates {(0,0.0)(5,0.1)(8,0.05)(12,0.1)(18,0.3)(25,0.35)(30,0.45)(35,0.55)(40,0.45)(45,0.6)(50,0.85)(55,0.9)(58,0.85)(62,0.5)(66,0.3)(70,0.12)(80,0.05)(90,0.04)(95,0.1)(100,0.02)};
\addplot[fl=faintk] coordinates {(0,0.0)(10,0.08)(15,0.15)(22,0.2)(30,0.3)(38,0.42)(45,0.6)(50,0.85)(55,0.55)(60,0.2)(65,0.08)(80,0.02)(100,0.0)};
\addplot[fl=faintk] coordinates {(0,0.0)(10,0.1)(15,0.3)(20,0.35)(25,0.75)(30,0.75)(38,0.72)(46,0.75)(52,0.6)(58,0.2)(65,0.05)(100,0.0)};
\addplot[ml=black] coordinates {(0,0)(2.4,0.01)(4.8,0.07)(7.3,0.03)(10.5,0.10)(12.9,0.24)(16.1,0.475)(18.5,0.495)(24.2,0.525)(30.6,0.545)(35.5,0.596)(40.3,0.657)(43.5,0.70)(46.8,0.79)(48.7,0.82)(51.6,0.70)(56.5,0.485)(61.3,0.28)(66.1,0.10)(71,0.07)(79,0.05)(87.1,0.04)(91.9,0.03)(95.2,0.05)(96.8,0.02)(100,0.006)};
\end{axis}
\begin{axis}[lineax, at={(251.25pt,-503.5pt)}]
\addplot[fl=faintk] coordinates {(0,0.15)(4,0.6)(6,0.15)(10,0.3)(13,0.8)(16,0.6)(20,0.45)(25,0.35)(30,0.3)(35,0.2)(40,0.1)(50,0.05)(60,0.06)(70,0.1)(80,0.2)(85,0.15)(92,0.1)(97,0.08)(100,0.1)};
\addplot[fl=faintk] coordinates {(0,0.02)(20,0.02)(30,0.0)(40,0.02)(50,0.3)(55,0.45)(60,0.55)(65,0.6)(70,0.7)(75,0.78)(80,0.85)(83,0.9)(88,0.7)(92,0.4)(95,0.9)(98,0.3)(100,0.1)};
\addplot[fl=faintk] coordinates {(0,0.05)(15,0.02)(30,0.05)(40,0.15)(45,0.3)(50,0.5)(55,0.4)(60,0.2)(65,0.05)(75,0.08)(85,0.2)(90,0.5)(93,0.9)(96,0.3)(100,0.05)};
\addplot[fl=faintk] coordinates {(0,0.0)(20,0.02)(40,0.05)(50,0.15)(55,0.3)(60,0.45)(65,0.3)(70,0.15)(80,0.1)(90,0.1)(100,0.05)};
\addplot[ml=black] coordinates {(0,0.05)(2.4,0.08)(4,0.24)(6.1,0.08)(8.9,0.20)(12.9,0.32)(16.1,0.22)(21,0.24)(24.2,0.23)(29,0.17)(33.1,0.15)(37.1,0.24)(41.9,0.32)(46,0.38)(51.6,0.34)(57.3,0.31)(62.9,0.355)(69.4,0.42)(75.8,0.50)(81.5,0.59)(85.5,0.565)(88.7,0.38)(91.1,0.34)(93.5,0.465)(96,0.18)(98.4,0.09)(100,0.08)};
\end{axis}

% ================= zoom-out muscle axis =================
\draw[dashed, dash pattern=on 3pt off 2pt, line width=0.8pt] (18.5pt,-400.5pt) -- (18.5pt,-527pt);
\draw[dashed, dash pattern=on 3pt off 2pt, line width=0.8pt] (79pt,-400.5pt) -- (178.25pt,-527pt);
\begin{axis}[scale only axis, anchor=south west, at={(18pt,-527pt)}, width=160.25pt, height=8pt,
  axis x line=bottom, axis y line=none, axis line style={line width=1.2pt,-},
  xmin=0, xmax=10, ymin=0, ymax=1, enlargelimits=false,
  xtick={0,1,...,10}, xticklabels={}, xtick align=outside, major tick length=5.5pt,
  xtick style={line width=1.2pt, black}, clip=false]
\addplot[draw=none] coordinates {(0,0)(10,0)};
\node[mus] at (axis cs:0.5,0) {TA};
\node[mus] at (axis cs:1.5,0) {SOL};
\node[mus] at (axis cs:2.5,0) {LG};
\node[mus] at (axis cs:3.5,0) {RF};
\node[mus] at (axis cs:4.5,0) {VM};
\node[mus] at (axis cs:5.5,0) {VL};
\node[mus] at (axis cs:6.5,0) {MH};
\node[mus] at (axis cs:7.5,0) {LH};
\node[mus] at (axis cs:8.5,0) {Gmed};
\node[mus] at (axis cs:9.5,0) {Gmax};
\end{axis}
\end{tikzpicture}
\end{document}
